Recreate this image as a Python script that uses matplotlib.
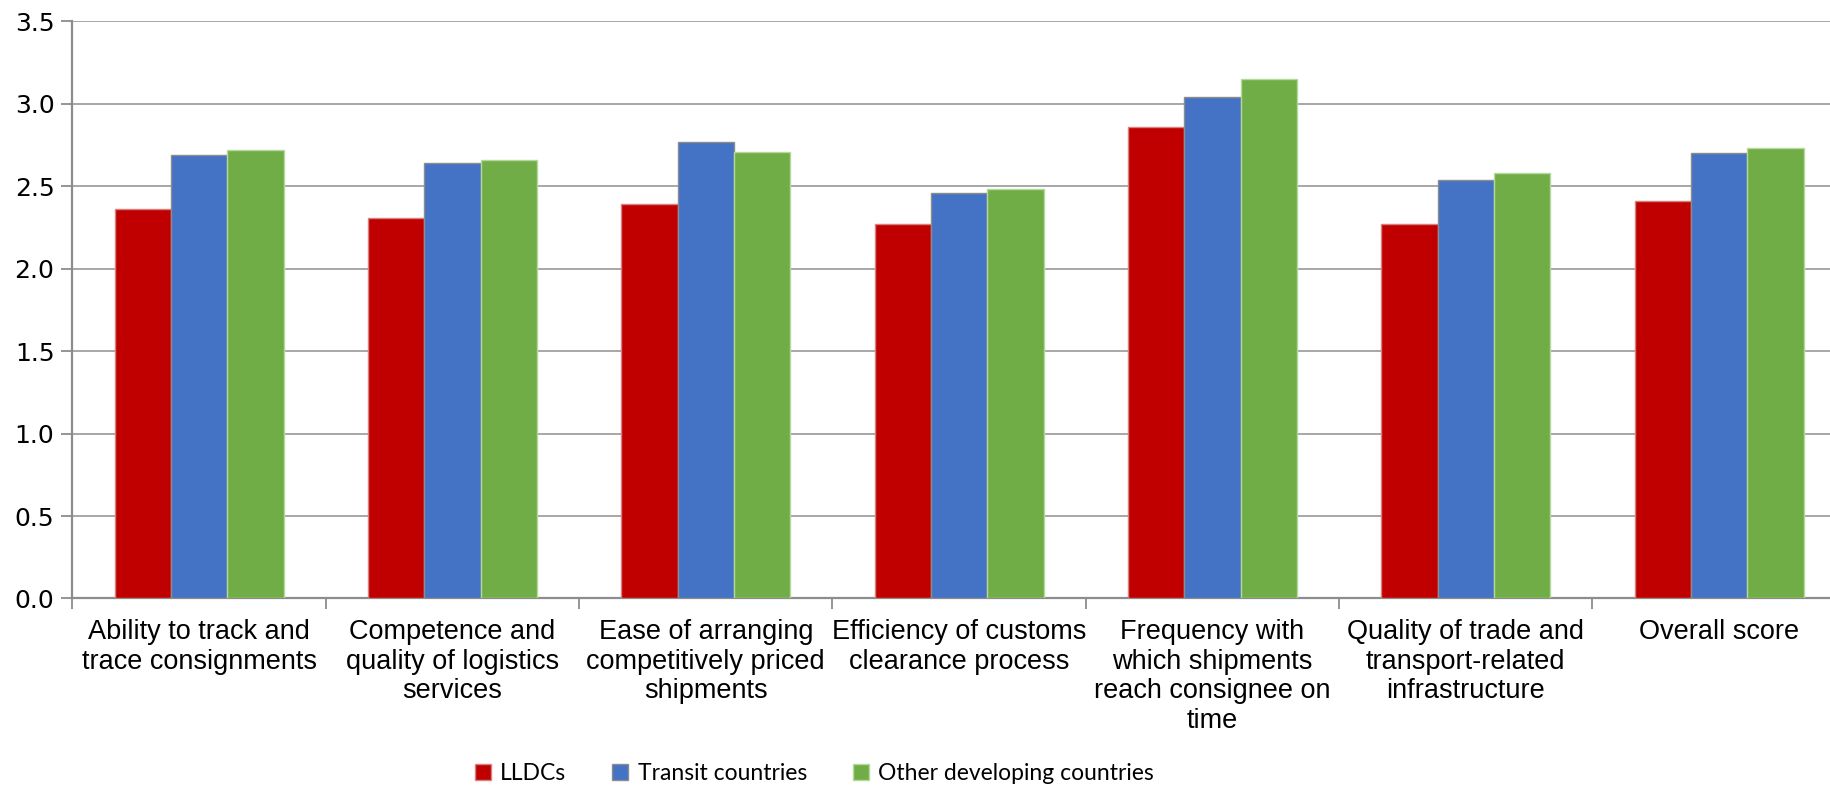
import numpy as np
import matplotlib
matplotlib.use("Agg")
import matplotlib.pyplot as plt

# Logistics Performance Index components, scores by country group
categories = [
    "Ability to track and\ntrace consignments",
    "Competence and\nquality of logistics\nservices",
    "Ease of arranging\ncompetitively priced\nshipments",
    "Efficiency of customs\nclearance process",
    "Frequency with\nwhich shipments\nreach consignee on\ntime",
    "Quality of trade and\ntransport-related\ninfrastructure",
    "Overall score",
]
lldcs = [2.36, 2.31, 2.39, 2.27, 2.86, 2.27, 2.41]
transit = [2.69, 2.64, 2.77, 2.46, 3.04, 2.54, 2.70]
other_dev = [2.72, 2.66, 2.71, 2.48, 3.15, 2.58, 2.73]

series = [
    ("LLDCs", lldcs, "#C00000", "#d98080"),
    ("Transit countries", transit, "#4472C4", "#8c8c8c"),
    ("Other developing countries", other_dev, "#70AD47", "#b5d99c"),
]

fig = plt.figure(figsize=(18.3, 7.88), dpi=100)
# plot area runs slightly past the right edge of the figure
ax = fig.add_axes([0.0396, 0.2405, 0.969, 0.7325])

x = np.arange(len(categories))
bar_w = 2 / 9  # three bars plus a 150% gap per category
for i, (name, vals, color, edge) in enumerate(series):
    ax.bar(x + (i - 1) * bar_w, vals, width=bar_w, color=color,
           edgecolor=edge, linewidth=1.0, label=name, zorder=3)

ax.set_xlim(-0.5, len(categories) - 0.5)
ax.set_ylim(0, 3.5)
ax.set_yticks(np.arange(0, 3.51, 0.5))
ax.set_yticklabels([f"{v:.1f}" for v in np.arange(0, 3.51, 0.5)],
                   fontsize=18, family="DejaVu Sans")
ax.yaxis.grid(True, color="#a0a0a0", linewidth=1.3, zorder=0)

# tick marks between groups, labels under group centres
ax.set_xticks(np.arange(-0.5, len(categories), 1.0))
ax.set_xticklabels([])
ax.set_xticks(x, minor=True)
ax.set_xticklabels(categories, minor=True, fontsize=19.5,
                   family="Liberation Sans", linespacing=1.17, va="top")
ax.tick_params(axis="x", which="major", length=8, width=1.3, color="#8c8c8c")
ax.tick_params(axis="x", which="minor", length=0, pad=15)
ax.tick_params(axis="y", length=8, width=1.3, color="#8c8c8c", pad=5)

for side in ("top", "right"):
    ax.spines[side].set_visible(False)
for side in ("left", "bottom"):
    ax.spines[side].set_color("#8c8c8c")
    ax.spines[side].set_linewidth(1.6)

handles, labels = ax.get_legend_handles_labels()
fig.legend(handles, labels, loc="center", bbox_to_anchor=(0.445, 0.018),
           ncol=3, frameon=False, prop={"family": "Lato", "size": 16.5},
           handlelength=0.7, handleheight=0.7, handletextpad=0.4,
           columnspacing=2.0)

fig.savefig("out.png", dpi=100)
